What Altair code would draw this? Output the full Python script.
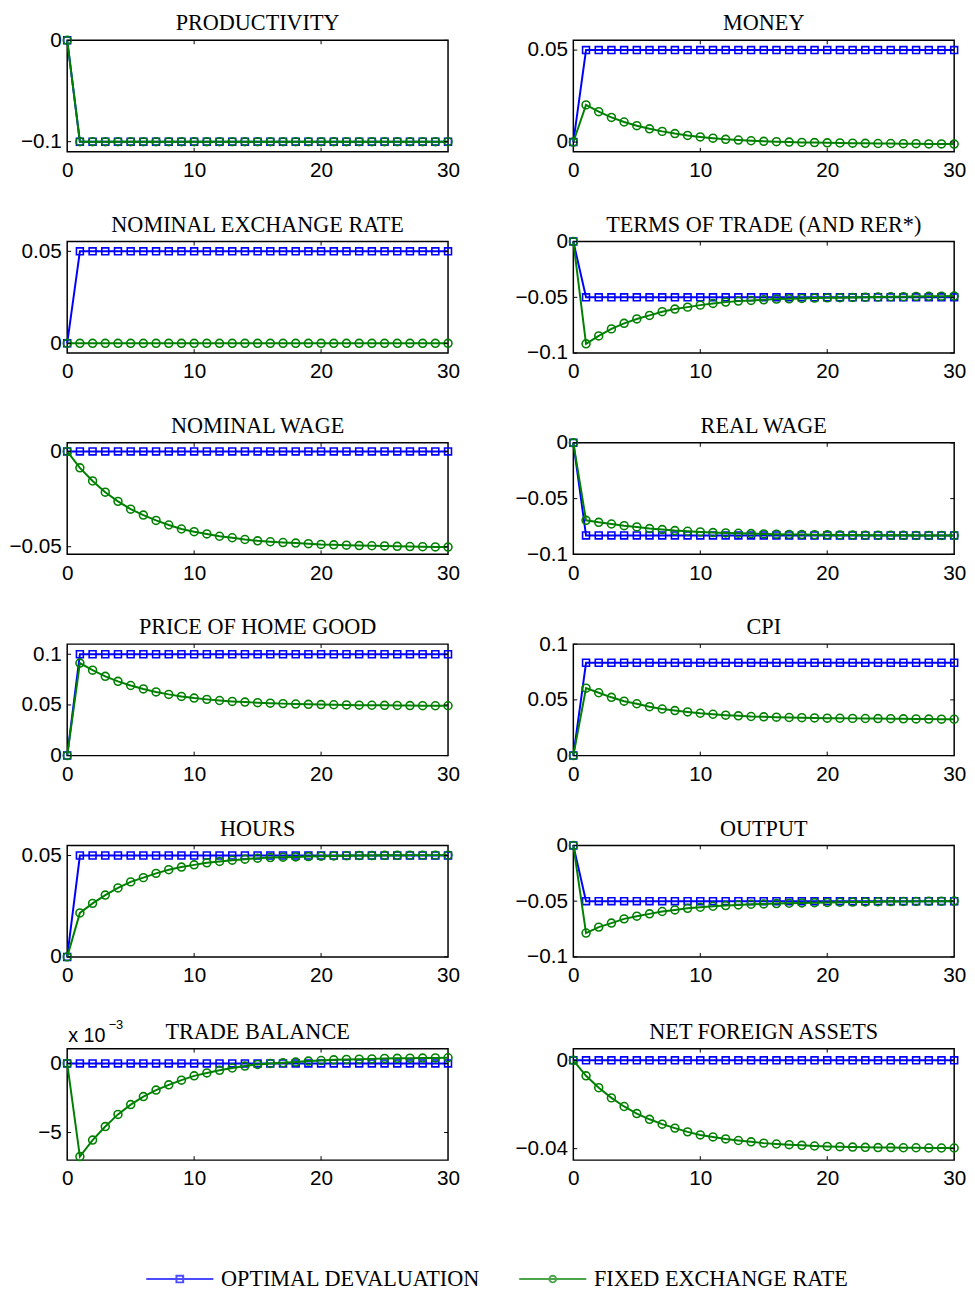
import altair as alt
import pandas as pd

# ---------------- data ----------------
T = [0, 1, 2, 3, 4, 5, 6, 7, 8, 9, 10, 11, 12, 13, 14, 15, 16, 17, 18, 19, 20,
     21, 22, 23, 24, 25, 26, 27, 28, 29, 30]
SERIES = ["Optimal Devaluation", "Fixed Exchange Rate"]
XTICKS = [0, 10, 20, 30]

TITLES = ["Productivity", "Money", "Nominal Exchange Rate", "Terms of Trade (and RER*)",
          "Nominal Wage", "Real Wage", "Price of Home Good", "CPI",
          "Hours", "Output", "Trade Balance", "Net Foreign Assets"]

productivity_opt = [0, -0.1, -0.1, -0.1, -0.1, -0.1, -0.1, -0.1, -0.1, -0.1, -0.1, -0.1, -0.1, -0.1, -0.1, -0.1,
                    -0.1, -0.1, -0.1, -0.1, -0.1, -0.1, -0.1, -0.1, -0.1, -0.1, -0.1, -0.1, -0.1, -0.1, -0.1]
productivity_fix = [0, -0.1, -0.1, -0.1, -0.1, -0.1, -0.1, -0.1, -0.1, -0.1, -0.1, -0.1, -0.1, -0.1, -0.1, -0.1,
                    -0.1, -0.1, -0.1, -0.1, -0.1, -0.1, -0.1, -0.1, -0.1, -0.1, -0.1, -0.1, -0.1, -0.1, -0.1]

money_opt = [0, 0.05, 0.05, 0.05, 0.05, 0.05, 0.05, 0.05, 0.05, 0.05, 0.05, 0.05, 0.05, 0.05, 0.05, 0.05,
             0.05, 0.05, 0.05, 0.05, 0.05, 0.05, 0.05, 0.05, 0.05, 0.05, 0.05, 0.05, 0.05, 0.05, 0.05]
money_fix = [0, 0.0202, 0.0165, 0.0134, 0.0109, 0.0089, 0.0072, 0.0058, 0.0046, 0.0036, 0.0028, 0.0021,
             0.0015, 0.0011, 0.0007, 0.0004, 0.0002, 0.0000, -0.0002, -0.0003, -0.0004, -0.0005, -0.0006,
             -0.0007, -0.0008, -0.0008, -0.0009, -0.0009, -0.0010, -0.0010, -0.0011]

ner_opt = [0, 0.05, 0.05, 0.05, 0.05, 0.05, 0.05, 0.05, 0.05, 0.05, 0.05, 0.05, 0.05, 0.05, 0.05, 0.05,
           0.05, 0.05, 0.05, 0.05, 0.05, 0.05, 0.05, 0.05, 0.05, 0.05, 0.05, 0.05, 0.05, 0.05, 0.05]
ner_fix = [0, 0, 0, 0, 0, 0, 0, 0, 0, 0, 0, 0, 0, 0, 0, 0, 0, 0, 0, 0, 0, 0, 0, 0, 0, 0, 0, 0, 0, 0, 0]

tot_opt = [0, -0.05, -0.05, -0.05, -0.05, -0.05, -0.05, -0.05, -0.05, -0.05, -0.05, -0.05, -0.05, -0.05,
           -0.05, -0.05, -0.05, -0.05, -0.05, -0.05, -0.05, -0.05, -0.05, -0.05, -0.05, -0.05, -0.05,
           -0.05, -0.05, -0.05, -0.05]
tot_fix = [0, -0.0917, -0.0846, -0.0783, -0.0733, -0.0694, -0.0662, -0.0629, -0.0605, -0.0588, -0.0570,
           -0.0555, -0.0543, -0.0534, -0.0528, -0.0522, -0.0516, -0.0513, -0.0510, -0.0507, -0.0505,
           -0.0503, -0.0501, -0.0499, -0.0497, -0.0495, -0.0494, -0.0492, -0.0491, -0.0490, -0.0489]

nwage_opt = [0, 0, 0, 0, 0, 0, 0, 0, 0, 0, 0, 0, 0, 0, 0, 0, 0, 0, 0, 0, 0, 0, 0, 0, 0, 0, 0, 0, 0, 0, 0]
nwage_fix = [0, -0.0086, -0.0155, -0.0214, -0.0262, -0.0303, -0.0334, -0.0362, -0.0386, -0.0407, -0.0421,
             -0.0433, -0.0445, -0.0453, -0.0462, -0.0469, -0.0474, -0.0478, -0.0481, -0.0484, -0.0488,
             -0.0490, -0.0492, -0.0494, -0.0495, -0.0496, -0.0498, -0.0499, -0.0500, -0.0501, -0.0502]

rwage_opt = [0, -0.083, -0.083, -0.083, -0.083, -0.083, -0.083, -0.083, -0.083, -0.083, -0.083, -0.083,
             -0.083, -0.083, -0.083, -0.083, -0.083, -0.083, -0.083, -0.083, -0.083, -0.083, -0.083,
             -0.083, -0.083, -0.083, -0.083, -0.083, -0.083, -0.083, -0.083]
rwage_fix = [0, -0.0695, -0.0713, -0.0728, -0.0743, -0.0754, -0.0769, -0.0778, -0.0787, -0.0793, -0.0799,
             -0.0805, -0.0808, -0.0811, -0.0814, -0.0817, -0.0819, -0.0821, -0.0823, -0.0824, -0.0825,
             -0.0826, -0.0827, -0.0828, -0.0828, -0.0829, -0.0829, -0.0830, -0.0830, -0.0830, -0.0830]

phome_opt = [0, 0.1, 0.1, 0.1, 0.1, 0.1, 0.1, 0.1, 0.1, 0.1, 0.1, 0.1, 0.1, 0.1, 0.1, 0.1,
             0.1, 0.1, 0.1, 0.1, 0.1, 0.1, 0.1, 0.1, 0.1, 0.1, 0.1, 0.1, 0.1, 0.1, 0.1]
phome_fix = [0, 0.0913, 0.0843, 0.0782, 0.0733, 0.0692, 0.0658, 0.0628, 0.0604, 0.0584, 0.0568, 0.0555,
             0.0544, 0.0535, 0.0528, 0.0522, 0.0517, 0.0513, 0.0509, 0.0506, 0.0504, 0.0502, 0.0500,
             0.0498, 0.0497, 0.0496, 0.0495, 0.0494, 0.0493, 0.0492, 0.0492]

cpi_opt = [0, 0.0833, 0.0833, 0.0833, 0.0833, 0.0833, 0.0833, 0.0833, 0.0833, 0.0833, 0.0833, 0.0833,
           0.0833, 0.0833, 0.0833, 0.0833, 0.0833, 0.0833, 0.0833, 0.0833, 0.0833, 0.0833, 0.0833,
           0.0833, 0.0833, 0.0833, 0.0833, 0.0833, 0.0833, 0.0833, 0.0833]
cpi_fix = [0, 0.0605, 0.0564, 0.0523, 0.0488, 0.0465, 0.0439, 0.0418, 0.0404, 0.0392, 0.0380, 0.0371,
           0.0363, 0.0357, 0.0351, 0.0348, 0.0345, 0.0342, 0.0340, 0.0338, 0.0336, 0.0335, 0.0334,
           0.0333, 0.0332, 0.0331, 0.0330, 0.0329, 0.0328, 0.0327, 0.0326]

hours_opt = [0, 0.05, 0.05, 0.05, 0.05, 0.05, 0.05, 0.05, 0.05, 0.05, 0.05, 0.05, 0.05, 0.05, 0.05, 0.05,
             0.05, 0.05, 0.05, 0.05, 0.05, 0.05, 0.05, 0.05, 0.05, 0.05, 0.05, 0.05, 0.05, 0.05, 0.05]
hours_fix = [0, 0.0217, 0.0264, 0.0305, 0.0340, 0.0370, 0.0391, 0.0412, 0.0430, 0.0443, 0.0454, 0.0464,
             0.0471, 0.0477, 0.0482, 0.0487, 0.0490, 0.0492, 0.0493, 0.0495, 0.0497, 0.0498, 0.0499,
             0.0500, 0.0500, 0.0501, 0.0501, 0.0502, 0.0502, 0.0502, 0.0502]

output_opt = [0, -0.05, -0.05, -0.05, -0.05, -0.05, -0.05, -0.05, -0.05, -0.05, -0.05, -0.05, -0.05, -0.05,
              -0.05, -0.05, -0.05, -0.05, -0.05, -0.05, -0.05, -0.05, -0.05, -0.05, -0.05, -0.05, -0.05,
              -0.05, -0.05, -0.05, -0.05]
output_fix = [0, -0.0786, -0.0733, -0.0697, -0.0659, -0.0635, -0.0614, -0.0593, -0.0579, -0.0564, -0.0555,
              -0.0546, -0.0540, -0.0534, -0.0528, -0.0525, -0.0522, -0.0519, -0.0516, -0.0514, -0.0512,
              -0.0510, -0.0508, -0.0507, -0.0505, -0.0504, -0.0503, -0.0502, -0.0501, -0.0500, -0.0499]

tb_opt = [0, 0, 0, 0, 0, 0, 0, 0, 0, 0, 0, 0, 0, 0, 0, 0, 0, 0, 0, 0, 0, 0, 0, 0, 0, 0, 0, 0, 0, 0, 0]
tb_fix = [0, -0.00674, -0.00555, -0.00457, -0.00369, -0.00298, -0.00240, -0.00193, -0.00155, -0.00121,
          -0.00090, -0.00069, -0.00050, -0.00033, -0.00019, -0.00007, 0.00000, 0.00005, 0.00010, 0.00017,
          0.00021, 0.00026, 0.00029, 0.00031, 0.00033, 0.00036, 0.00037, 0.00038, 0.00039, 0.00040, 0.00041]

nfa_opt = [0, 0, 0, 0, 0, 0, 0, 0, 0, 0, 0, 0, 0, 0, 0, 0, 0, 0, 0, 0, 0, 0, 0, 0, 0, 0, 0, 0, 0, 0, 0]
nfa_fix = [0, -0.0070, -0.0124, -0.0170, -0.0209, -0.0241, -0.0267, -0.0289, -0.0307, -0.0324, -0.0338,
           -0.0347, -0.0356, -0.0363, -0.0369, -0.0375, -0.0379, -0.0382, -0.0385, -0.0388, -0.0390,
           -0.0391, -0.0393, -0.0394, -0.0395, -0.0395, -0.0396, -0.0396, -0.0397, -0.0397, -0.0397]

DOMAINS = [[-0.11, 0], [-0.0053, 0.0553], [-0.0053, 0.0553], [-0.1, 0],
           [-0.054, 0.0045], [-0.1, 0], [0, 0.11], [0, 0.1],
           [0, 0.055], [-0.1, 0], [-0.007, 0.00107], [-0.0452, 0.0053]]
YTICKS = [[-0.1, 0], [0, 0.05], [0, 0.05], [-0.1, -0.05, 0],
          [-0.05, 0], [-0.1, -0.05, 0], [0, 0.05, 0.1], [0, 0.05, 0.1],
          [0, 0.05], [-0.1, -0.05, 0], [-0.005, 0], [-0.04, 0]]
SERIES_DATA = [(productivity_opt, productivity_fix), (money_opt, money_fix), (ner_opt, ner_fix),
               (tot_opt, tot_fix), (nwage_opt, nwage_fix), (rwage_opt, rwage_fix),
               (phome_opt, phome_fix), (cpi_opt, cpi_fix), (hours_opt, hours_fix),
               (output_opt, output_fix), (tb_opt, tb_fix), (nfa_opt, nfa_fix)]

# ---------------- style ----------------
BLUE = "#0000ff"
GREEN = "#008000"
W, H = 386, 113
TICK = 4
SERIF = "Liberation Serif"
SANS = "Liberation Sans"
TITLE_SIZE = 22.5

# legend glyph: a 68px line with a marker; the glyph's layout box is kept small (size 514 -> 22.7px)
# and the path is drawn three box-widths wide, shifted right with symbolOffset.
SQ_PATH = "M-3,0H3M-0.3,-0.3H0.3V0.3H-0.3Z"
CI_PATH = "M-3,0H3M-0.3,0A0.3,0.3,0,1,0,0.3,0A0.3,0.3,0,1,0,-0.3,0"

LEGEND = alt.Legend(title=None, orient="none", legendX=79, legendY=1243, direction="horizontal",
                    labelExpr="upper(datum.label)", labelFont=SERIF, labelFontSize=TITLE_SIZE,
                    labelColor="black", labelLimit=500, symbolSize=514, symbolStrokeWidth=2,
                    symbolOffset=22.65, labelOffset=29.3, columnPadding=35)


def panel(i):
    opt, fix = SERIES_DATA[i]
    df = pd.DataFrame({"t": T + T, "value": opt + fix,
                       "series": [SERIES[0]] * len(T) + [SERIES[1]] * len(T)})
    xscale = alt.Scale(domain=[0, 30], nice=False, zero=False)
    yscale = alt.Scale(domain=DOMAINS[i], nice=False, zero=False)
    if i == 10:
        yaxis = alt.Axis(values=YTICKS[i], title=None, labelExpr="format(datum.value*1000, '.0f')",
                         labelFlush=False, labelOverlap=False)
    else:
        yaxis = alt.Axis(values=YTICKS[i], title=None, format="~g", labelFlush=False, labelOverlap=False)
    xaxis = alt.Axis(values=XTICKS, title=None, labelFlush=False, labelOverlap=False)
    x = alt.X("t:Q", scale=xscale, axis=xaxis)
    y = alt.Y("value:Q", scale=yscale, axis=yaxis)
    base = alt.Chart(df)
    blue = base.transform_filter(alt.datum.series == SERIES[0])
    green = base.transform_filter(alt.datum.series == SERIES[1])
    layers = [
        blue.mark_line(color=BLUE, strokeWidth=2).encode(x=x, y=y),
        blue.mark_point(shape="square", filled=False, color=BLUE, size=49, strokeWidth=1.6,
                        opacity=1).encode(x=x, y=y),
        green.mark_line(color=GREEN, strokeWidth=2).encode(x=x, y=y),
        green.mark_point(shape="circle", filled=False, color=GREEN, size=64, strokeWidth=1.6,
                         opacity=1).encode(x=x, y=y),
    ]
    # inward tick marks on all four sides, placed through the panel's scales
    xt = alt.Chart(pd.DataFrame({"xk": [10, 20]}))
    xk = alt.X("xk:Q", scale=xscale, axis=xaxis)
    layers.append(xt.mark_rule(color="black", strokeWidth=1).encode(
        x=xk, y=alt.value(H), y2=alt.value(H - TICK)))
    layers.append(xt.mark_rule(color="black", strokeWidth=1).encode(
        x=xk, y=alt.value(0), y2=alt.value(TICK)))
    yt = alt.Chart(pd.DataFrame({"yk": YTICKS[i]}))
    yk = alt.Y("yk:Q", scale=yscale, axis=yaxis)
    layers.append(yt.mark_rule(color="black", strokeWidth=1).encode(
        y=yk, x=alt.value(0), x2=alt.value(TICK)))
    layers.append(yt.mark_rule(color="black", strokeWidth=1).encode(
        y=yk, x=alt.value(W), x2=alt.value(W - TICK)))
    # panel title (fixed distance above the plot frame)
    ttl = alt.Chart(pd.DataFrame({"title": [TITLES[i].upper()]}))
    layers.append(ttl.mark_text(align="center", baseline="alphabetic", font=SERIF, fontSize=TITLE_SIZE,
                                color="black").encode(x=alt.value(W / 2), y=alt.value(-10),
                                                      text="title:N"))
    if i == 10:
        lab = alt.Chart(pd.DataFrame({"s": ["x 10"], "e": ["\u22123"]}))
        layers.append(lab.mark_text(align="left", baseline="alphabetic", font=SANS, fontSize=20,
                                    color="black").encode(x=alt.value(1), y=alt.value(-7), text="s:N"))
        layers.append(lab.mark_text(align="left", baseline="alphabetic", font=SANS, fontSize=13,
                                    color="black").encode(x=alt.value(42), y=alt.value(-20), text="e:N"))
    if i == 11:
        carrier = base.transform_filter("datum.t < 0").mark_point(filled=False, strokeWidth=2).encode(
            x=x, y=y,
            color=alt.Color("series:N", scale=alt.Scale(domain=SERIES, range=[BLUE, GREEN]), legend=LEGEND),
            shape=alt.Shape("series:N", scale=alt.Scale(domain=SERIES, range=[SQ_PATH, CI_PATH]),
                            legend=LEGEND),
        )
        layers.append(carrier)
    return alt.layer(*layers).properties(width=W, height=H)


panels = [panel(i) for i in range(12)]

chart = alt.concat(*panels, columns=2, spacing={"row": 32, "column": 54}).properties(
    padding={"left": 0, "top": -5, "right": 0, "bottom": 0}
).configure_view(
    stroke="black", strokeWidth=1.5
).configure_axis(
    labelFont=SANS, labelFontSize=21, labelColor="black", domain=False, ticks=False, grid=False
).configure_axisLeft(
    labelPadding=6
).configure_axisBottom(
    labelPadding=8
)

chart.save("out.html", embed_options={"renderer": "svg", "actions": False})
